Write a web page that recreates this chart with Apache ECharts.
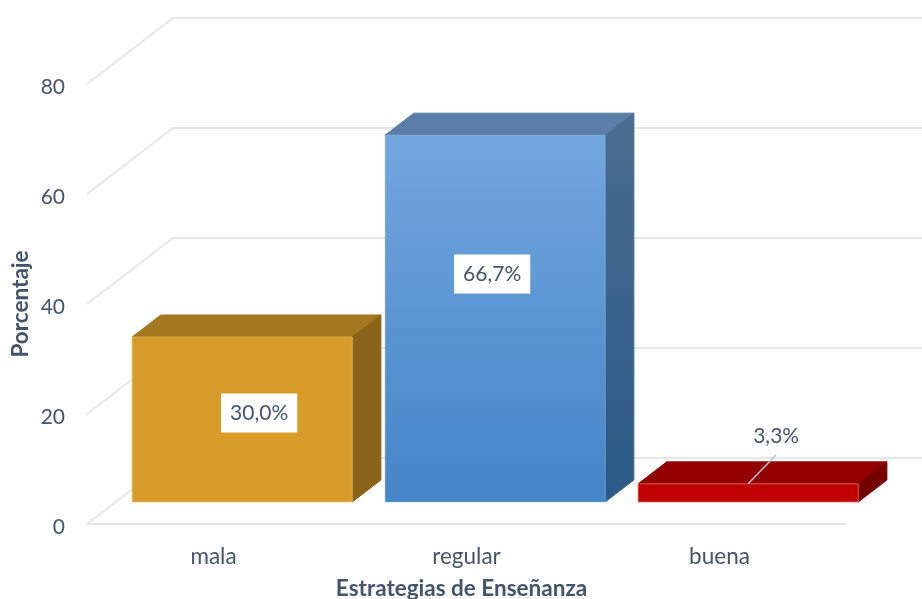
<!DOCTYPE html>
<html><head><meta charset="utf-8">
<style>html,body{margin:0;padding:0;background:#fff}#c{width:922px;height:599px}</style>
<script src="https://cdn.jsdelivr.net/npm/echarts@6/dist/echarts.min.js"></script>
</head><body><div id="c"></div>
<script>
const categories = ['mala', 'regular', 'buena'];
const values = [30.0, 66.7, 3.3];
const valueLabels = ['30,0%', '66,7%', '3,3%'];
const axisTicks = [0, 20, 40, 60, 80];
const yTitle = 'Porcentaje';
const xTitle = 'Estrategias de Enseñanza';

const textColor = '#44546a';
const fontFamily = 'Lato, "Open Sans", sans-serif';
const faceColors = [
  {front: '#d69b28', frontEnd: '#d69b28', top: '#a5771e', side: '#8b6319', sideEnd: '#8b6319', edge: 'rgba(232,190,110,0.7)'},
  {front: '#72a6de', frontEnd: '#4485c8', top: '#5a7ea8', side: '#4a6c90', sideEnd: '#2a5a87', edge: 'rgba(143,180,220,0.45)'},
  {front: '#c00000', frontEnd: '#c00000', top: '#920000', side: '#740000', sideEnd: '#740000', edge: 'rgba(224,106,106,0.8)'}
];
// depth geometry, in value-axis units for y and a px-per-unit ratio for x
const wallDepth = 12, barGap = 4, barDepth = 4, skew = 86 / 66, barFill = 0.87;
// label shift from bar face anchor, px
const labelShift = [[17, -6.5], [-3, -44.6], [28, -48]];

function poly(points, fill, stroke) {
  return {type: 'polygon', shape: {points}, style: {fill, stroke: stroke || fill, lineWidth: stroke ? 1 : 0}};
}
function vgrad(a, b) {
  return {type: 'linear', x: 0, y: 0, x2: 0, y2: 1, colorStops: [{offset: 0, color: a}, {offset: 1, color: b}]};
}

function renderWall(params, api) {
  const v = api.value(0);
  const cs = params.coordSys;
  const y = api.coord([0, v])[1];
  const unit = api.size([0, 1])[1];
  const dy = wallDepth * unit, dx = dy * skew;
  const x0 = cs.x, x1 = cs.x + cs.width;
  const lineStyle = {stroke: '#e7e7e7', lineWidth: 2, fill: null};
  const kids = [
    {type: 'polyline', shape: {points: [[x0, y], [x0 + dx, y - dy], [x1 + dx, y - dy]]}, style: lineStyle}
  ];
  if (v === 0) kids.push({type: 'line', shape: {x1: x0, y1: y, x2: x1, y2: y}, style: {stroke: '#e2e4ea', lineWidth: 2}});
  return {type: 'group', children: kids};
}

function renderBar(params, api) {
  const i = params.dataIndex, c = faceColors[i];
  const cat = api.value(0), val = api.value(1);
  const p0 = api.coord([cat, 0]), pv = api.coord([cat, val]);
  const unit = api.size([0, 1])[1];
  const g = barGap * unit, d = barDepth * unit;
  const w = api.size([1, 0])[0] * barFill;
  const cx = p0[0] + g * skew, l = cx - w / 2, r = cx + w / 2;
  const b = p0[1] - g, t = pv[1] - g;
  const ddx = d * skew;
  const kids = [
    poly([[l, t], [r, t], [r + ddx, t - d], [l + ddx, t - d]], c.top, c.top),
    poly([[r, b], [r + ddx, b - d], [r + ddx, t - d], [r, t]], vgrad(c.side, c.sideEnd), c.side),
    {type: 'rect', shape: {x: l, y: t, width: w, height: b - t},
     style: {fill: vgrad(c.front, c.frontEnd), stroke: c.edge, lineWidth: 1}}
  ];
  const small = i === 2;
  const ax = cx, ay = small ? t : (t + b) / 2;
  const lx = ax + labelShift[i][0], ly = ay + labelShift[i][1];
  if (small) {
    kids.push({type: 'line', shape: {x1: ax, y1: ay, x2: lx, y2: ly + 19},
      style: {stroke: '#b6c2cf', lineWidth: 1.5}});
  }
  kids.push({type: 'text', x: lx, y: ly, style: {
    text: valueLabels[i], fill: textColor, font: '21px ' + fontFamily,
    align: 'center', verticalAlign: 'middle',
    backgroundColor: small ? null : '#fff', padding: small ? 0 : [9, 9, 9, 9]
  }});
  return {type: 'group', children: kids};
}

const chart = echarts.init(document.getElementById('c'), null, {renderer: 'canvas'});
chart.setOption({
  animation: false,
  backgroundColor: '#fff',
  grid: {left: 87, right: 76, top: 84, bottom: 75, containLabel: false, outerBoundsMode: 'none'},
  xAxis: {
    type: 'category', data: categories,
    axisLine: {show: false}, axisTick: {show: false}, splitLine: {show: false},
    axisLabel: {color: textColor, fontFamily, fontSize: 22.5, margin: 21},
    name: xTitle, nameLocation: 'middle', nameGap: 53, nameMoveOverlap: false,
    nameTextStyle: {color: textColor, fontFamily, fontSize: 22.5, fontWeight: 'bold', padding: [0, 10, 0, 0]}
  },
  yAxis: {
    type: 'value', min: 0, max: 80, interval: 20,
    axisLine: {show: false}, axisTick: {show: false}, splitLine: {show: false},
    axisLabel: {color: textColor, fontFamily, fontSize: 21, margin: 22, verticalAlign: 'top', lineHeight: 6},
    name: yTitle, nameLocation: 'middle', nameGap: 55, nameRotate: 90, nameMoveOverlap: false,
    nameTextStyle: {color: textColor, fontFamily, fontSize: 22.5, fontWeight: 'bold'}
  },
  series: [
    {type: 'custom', z: 1, clip: false, renderItem: renderWall,
     encode: {y: 0}, data: axisTicks.map(v => [v]), silent: true},
    {type: 'custom', z: 2, clip: false, renderItem: renderBar,
     encode: {x: 0, y: 1}, data: values.map((v, i) => [i, v]), silent: true}
  ]
});
</script></body></html>
